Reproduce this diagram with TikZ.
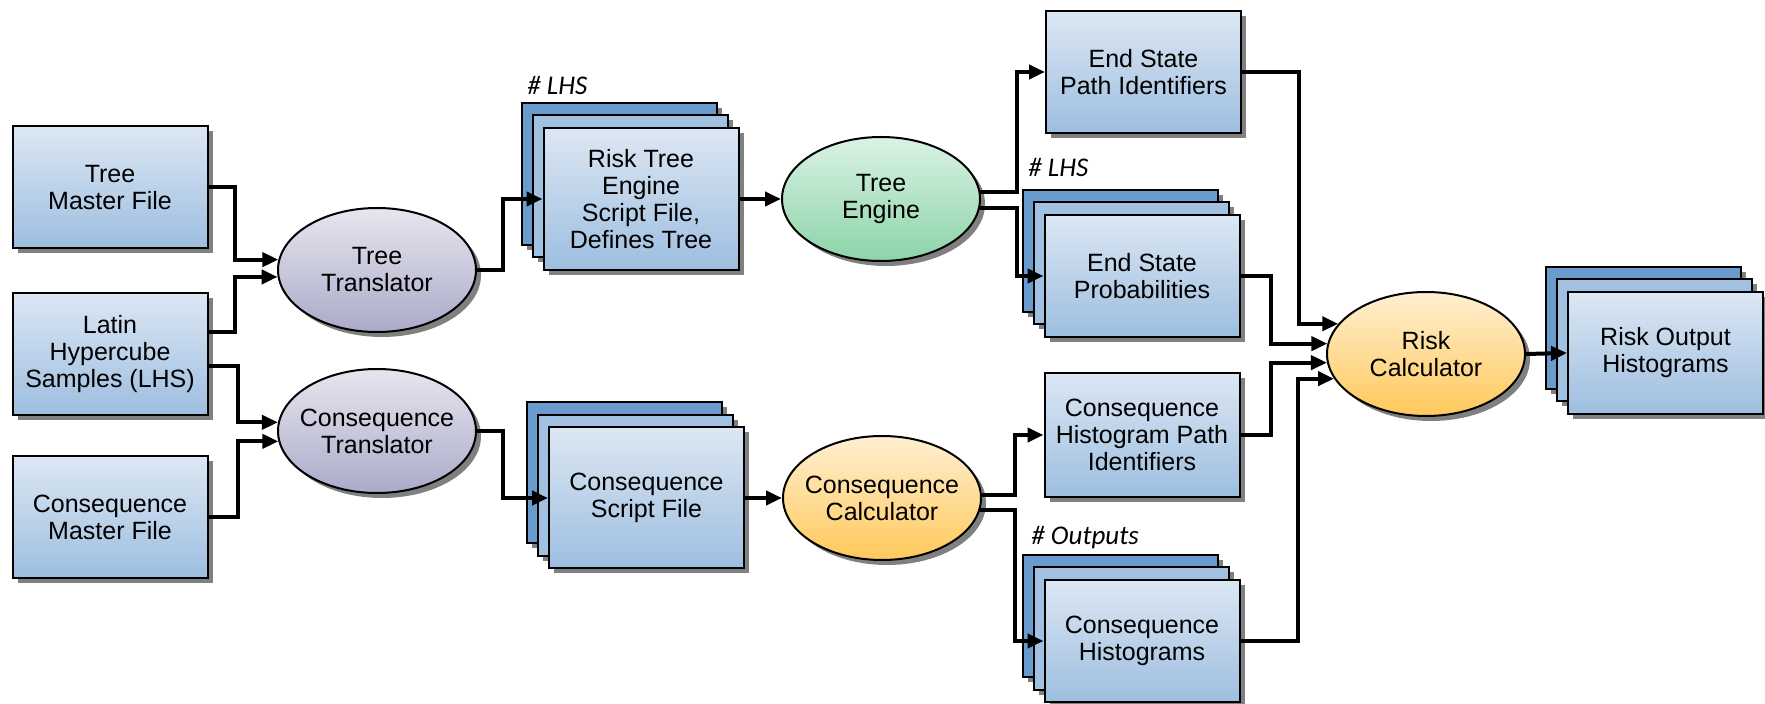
\documentclass[tikz,border=0pt]{standalone}
\usepackage{fontspec}
\setmainfont{Liberation Sans}
\newfontfamily\lblfont{Carlito}
\usetikzlibrary{arrows.meta,shadows,calc,shapes.geometric}

\definecolor{boxtop}{HTML}{DCE7F3}
\definecolor{boxbot}{HTML}{9DBEE0}
\definecolor{layA}{HTML}{6A9BCD}
\definecolor{layB}{HTML}{A2C1E0}
\definecolor{lavtop}{HTML}{E6E6EE}
\definecolor{lavbot}{HTML}{ABAAC9}
\definecolor{grntop}{HTML}{DAF2E4}
\definecolor{grnbot}{HTML}{8CD4A8}
\definecolor{orgtop}{HTML}{FFEFD2}
\definecolor{orgbot}{HTML}{FFC95A}

\tikzset{
  shd/.style={drop shadow={shadow xshift=2.5pt,shadow yshift=-2.5pt,fill=black!50,opacity=1}},
  txt/.style={align=center,inner sep=0pt,font=\fontsize{12.5}{13.5}\selectfont},
  box/.style={rectangle,draw=black,line width=1pt,minimum width=97.5pt,minimum height=61pt,
    inner sep=0pt,top color=boxtop,bottom color=boxbot,shd,txt},
  layerA/.style={rectangle,draw=black,line width=1pt,minimum width=97.5pt,inner sep=0pt,fill=layA,shd},
  layerB/.style={rectangle,draw=black,line width=1pt,minimum width=97.5pt,inner sep=0pt,fill=layB,shd},
  ell/.style={ellipse,draw=black,line width=1pt,minimum width=99pt,minimum height=62pt,inner sep=0pt,shd},
  conn/.style={line width=2pt,-{Triangle[length=8pt,width=7pt]}},
  lbl/.style={anchor=base west,inner sep=0pt,font=\lblfont\itshape\fontsize{13.5}{15}\selectfont}
}

\newcommand\mystack[4]{%
  \node[layerA,minimum height=#3] (#1-b) at ($(#2)+(-22,-25)$) {};
  \node[layerB,minimum height=#3] (#1-m) at ($(#2)+(-11,-12.5)$) {};
  \node[box,minimum height=#3] (#1) at (#2) {#4};
}

\begin{document}
\begin{tikzpicture}[x=0.5pt,y=-0.5pt]
\useasboundingbox (0,0) rectangle (1765,704);

% left input boxes
\node[box] (tm) at (110,187.5) {Tree\\Master File};
\node[box] (lhs) at (110,354) {Latin\\Hypercube\\Samples (LHS)};
\node[box] (cm) at (110,517) {Consequence\\Master File};

% translators
\node[ell,top color=lavtop,bottom color=lavbot,label={[txt]center:{Tree\\Translator}}] (tt) at (377,270) {};
\node[ell,top color=lavtop,bottom color=lavbot,label={[txt]center:{Consequence\\Translator}}] (ct) at (377,431) {};

% script stacks
\node[lbl] (l1) at (527,95) {\# LHS};
\mystack{rte}{641,199}{71pt}{Risk Tree\\Engine\\Script File,\\Defines Tree}
\mystack{csf}{646.5,498}{70.5pt}{Consequence\\Script File}

% engines
\node[ell,top color=grntop,bottom color=grnbot,label={[txt]center:{Tree\\Engine}}] (te) at (881,199) {};
\node[ell,top color=orgtop,bottom color=orgbot,label={[txt]center:{Consequence\\Calculator}}] (cc) at (882,498) {};

% outputs
\node[box] (espi) at (1143.5,72) {End State\\Path Identifiers};
\node[lbl] (l2) at (1028,177) {\# LHS};
\mystack{esp}{1142,276}{61pt}{End State\\Probabilities}
\node[box,minimum height=62pt] (chpi) at (1142,435) {Consequence\\Histogram Path\\Identifiers};
\node[lbl] (l3) at (1031,545) {\# Outputs};
\mystack{ch}{1142,641}{61pt}{Consequence\\Histograms}

% risk calculator
\node[ell,top color=orgtop,bottom color=orgbot,label={[txt]center:{Risk\\Calculator}}] (rc) at (1426,354) {};
\mystack{roh}{1665.5,353}{61pt}{Risk Output\\Histograms}

% connectors
\draw[conn] (tm.east) -- ++(26,0) |- (tt.174.2);
\draw[conn] ([yshift=11pt]lhs.east) -- ++(26,0) |- (tt.184.7);
\draw[conn] ([yshift=-6pt]lhs.east) -- ++(29,0) |- (ct.175.9);
\draw[conn] (cm.east) -- ++(29,0) |- (ct.186.4);
\draw[conn] (tt.east) -- ++(26,0) |- (rte.west);
\draw[conn] (ct.east) -- ++(26,0) |- (csf.west);
\draw[conn] (rte.east) -- (te.west);
\draw[conn] (csf.east) -- (cc.west);
\draw[conn] (te.4.7) -- ++(37,0) |- (espi.west);
\draw[conn] (te.355.3) -- ++(37,0) |- (esp.west);
\draw[conn] (cc.2.9) -- ++(33,0) |- (chpi.west);
\draw[conn] (cc.353) -- ++(35,0) |- (ch.west);
\draw[conn] (espi.east) -- ++(57,0) |- (rc.161.7);
\draw[conn] (esp.east) -- ++(30,0) |- (rc.174.2);
\draw[conn] (chpi.east) -- ++(30,0) |- (rc.185.25);
\draw[conn] (ch.east) -- ++(57,0) |- (rc.195.4);
\draw[conn] (rc.east) -- (roh.west);
\end{tikzpicture}
\end{document}
